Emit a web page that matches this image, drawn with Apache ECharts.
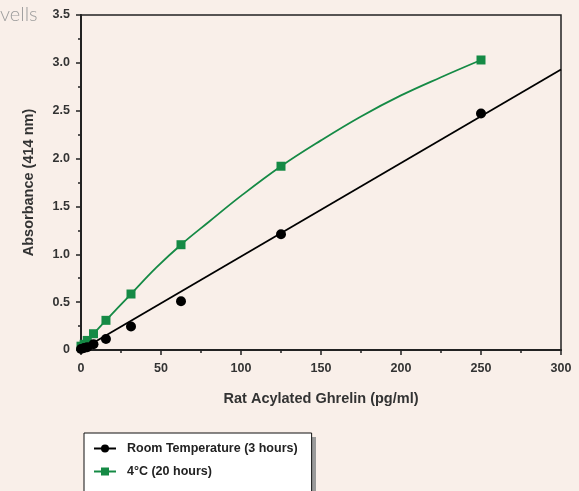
<!DOCTYPE html>
<html><head><meta charset="utf-8">
<script src="https://cdn.jsdelivr.net/npm/echarts@6/dist/echarts.min.js"></script>
<style>html,body{margin:0;padding:0;background:#f9efe9;}#c{width:579px;height:491px;}</style>
</head><body><div id="c"></div>
<script>
const concentrations = [0, 1.95, 3.9, 7.8, 15.6, 31.25, 62.5, 125, 250];
const roomTemp = [0.01, 0.02, 0.03, 0.06, 0.115, 0.245, 0.51, 1.21, 2.47];
const cold4C = [0.04, 0.06, 0.10, 0.17, 0.31, 0.585, 1.10, 1.92, 3.03];
// fitted curves
const roomFitX = [0, 300];
const roomFitY = [0, 2.93];
const coldFitX = [0, 3.9, 7.8, 15.6, 31.25, 47, 62.5, 80, 100, 125, 150, 175, 200, 225, 250];
const coldFitY = [0.05, 0.10, 0.17, 0.31, 0.585, 0.86, 1.10, 1.34, 1.61, 1.92, 2.19, 2.44, 2.66, 2.85, 3.03];
const seriesNames = ['Room Temperature (3 hours)', '4\u00B0C (20 hours)'];
const xTitle = 'Rat Acylated Ghrelin (pg/ml)';
const yTitle = 'Absorbance (414 nm)';
const cornerText = 'vells';

const pair = (xs, ys) => xs.map((x, i) => [x, ys[i]]);
const GREEN = '#158a45';
const FONT = 'Liberation Sans, Arial, sans-serif';

const chart = echarts.init(document.getElementById('c'), null, {renderer: 'canvas'});
chart.setOption({
  backgroundColor: '#f9efe9',
  animation: false,
  grid: {left: 81, top: 15, width: 480, height: 335, show: true, borderColor: '#222', borderWidth: 1.5, backgroundColor: 'transparent'},
  xAxis: {
    type: 'value', min: 0, max: 300, interval: 50,
    name: xTitle, nameLocation: 'middle', nameGap: 41,
    nameTextStyle: {fontFamily: FONT, fontWeight: 'bold', fontSize: 14.5, color: '#333'},
    axisLine: {lineStyle: {color: '#222', width: 2}},
    axisTick: {length: 5, lineStyle: {color: '#222', width: 1.5}},
    minorTick: {show: true, splitNumber: 2, length: 3, lineStyle: {color: '#222', width: 1.5}},
    splitLine: {show: false},
    axisLabel: {fontFamily: FONT, fontWeight: 'bold', fontSize: 12.5, color: '#333', margin: 12}
  },
  yAxis: {
    type: 'value', min: 0, max: 3.5, interval: 0.5,
    name: yTitle, nameLocation: 'middle', nameGap: 45, nameRotate: 90,
    nameTextStyle: {fontFamily: FONT, fontWeight: 'bold', fontSize: 14.5, color: '#333'},
    axisLine: {show: true, lineStyle: {color: '#222', width: 2}},
    axisTick: {show: true, length: 5, lineStyle: {color: '#222', width: 1.5}},
    minorTick: {show: true, splitNumber: 2, length: 3, lineStyle: {color: '#222', width: 1.5}},
    splitLine: {show: false},
    axisLabel: {fontFamily: FONT, fontWeight: 'bold', fontSize: 12.5, color: '#333', margin: 11,
      formatter: v => v === 0 ? '0' : v.toFixed(1)}
  },
  legend: {
    orient: 'vertical', left: 84, top: 433, height: 120,
    data: [
      {name: seriesNames[0], lineStyle: {color: '#000', width: 2, opacity: 1}},
      {name: seriesNames[1], lineStyle: {color: GREEN, width: 2, opacity: 1}}
    ],
    backgroundColor: '#fff', borderColor: '#111', borderWidth: 1,
    padding: [8, 14, 30, 9],
    itemWidth: 22, itemHeight: 10, itemGap: 8,
    textStyle: {fontFamily: FONT, fontWeight: 'bold', fontSize: 12.5, lineHeight: 15, color: '#222', padding: [0, 0, 0, 6]}
  },
  graphic: [
    {
      type: 'text', left: 0, top: 5,
      style: {text: cornerText, fontFamily: 'Lato', fontSize: 20, fill: '#9c9c9c', fontWeight: 300}
    },
    {
      type: 'rect', left: 312, top: 437, z: -1,
      shape: {width: 4, height: 60}, style: {fill: '#9a9a9a'}
    }
  ],
  series: [
    {
      name: seriesNames[0], type: 'line', data: pair(concentrations, roomTemp),
      symbol: 'circle', symbolSize: 10, lineStyle: {width: 0, opacity: 0},
      itemStyle: {color: '#000'}, z: 4
    },
    {
      name: 'roomFit', type: 'line', data: pair(roomFitX, roomFitY),
      symbol: 'none', lineStyle: {color: '#000', width: 1.8}, z: 3, silent: true
    },
    {
      name: seriesNames[1], type: 'line', data: pair(concentrations, cold4C),
      symbol: 'rect', symbolSize: 9, lineStyle: {width: 0, opacity: 0},
      itemStyle: {color: GREEN}, z: 2
    },
    {
      name: 'coldFit', type: 'line', data: pair(coldFitX, coldFitY),
      symbol: 'none', smooth: 0.4, lineStyle: {color: GREEN, width: 1.8}, z: 1, silent: true
    }
  ]
});
</script></body></html>
